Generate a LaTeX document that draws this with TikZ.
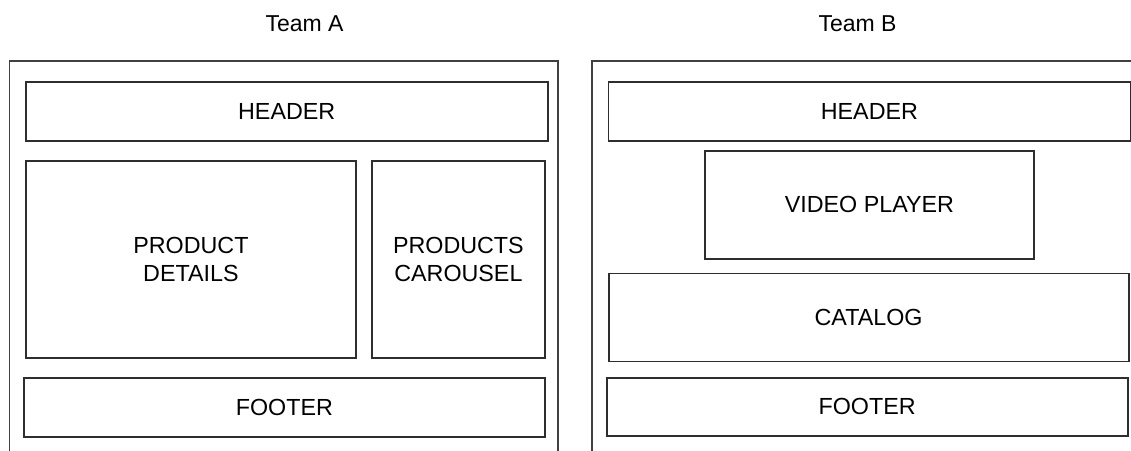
\documentclass[tikz,border=0pt]{standalone}
\usepackage{fontspec}
\setmainfont{Liberation Sans}
\begin{document}
\begin{tikzpicture}[x=1pt,y=-1pt,
  box/.style={draw=black!82,line width=1.8pt,rectangle,inner sep=0pt,anchor=north west,
    align=center,font=\fontsize{23.3}{28}\selectfont},
  frame/.style={draw=black!75,line width=1.8pt},
  title/.style={font=\fontsize{23}{28}\selectfont,inner sep=0pt}]
\useasboundingbox (0,0) rectangle (1131,450);
\begin{scope}
\clip (0,0) rectangle (1131,450);
% titles
\node[title] (ta) at (304.5,24) {Team A};
\node[title] (tb) at (857.5,24) {Team B};
% outer frames
\draw[frame] (9.5,452) -- (9.5,61) -- (557.8,61) -- (557.8,452);
\draw[frame] (591.7,452) -- (591.7,61) -- (1140,61);
% team A
\node[box,minimum width=522pt,minimum height=59pt] (ha) at (24.8,81.3) {HEADER};
\node[box,minimum width=330pt,minimum height=197pt] (pd) at (25,160) {PRODUCT\\DETAILS};
\node[box,minimum width=173pt,minimum height=197pt] (pc) at (371,160) {PRODUCTS\\CAROUSEL};
\node[box,minimum width=521pt,minimum height=59pt] (fa) at (23,377) {FOOTER};
% team B
\node[box,minimum width=522pt,minimum height=59pt] (hb) at (607.5,81.3) {HEADER};
\node[box,minimum width=329pt,minimum height=108pt] (vp) at (704,150) {VIDEO PLAYER};
\node[box,minimum width=520pt,minimum height=88pt] (ca) at (607.7,272.5) {CATALOG};
\node[box,minimum width=521pt,minimum height=58pt] (fb) at (605.7,377) {FOOTER};
\end{scope}
\end{tikzpicture}
\end{document}
